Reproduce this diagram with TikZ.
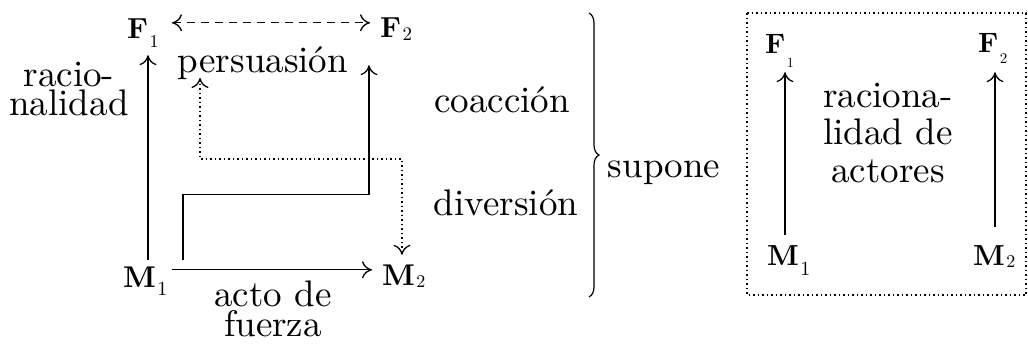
\documentclass[tikz,border=0pt]{standalone}
\usepackage{fontspec}
\setmainfont{lmroman10}[Extension=.otf, UprightFont=*-regular, BoldFont=*-bold, ItalicFont=*-italic]
\usetikzlibrary{arrows.meta,decorations.pathreplacing}
% #1 letter, #2 index, #3 letter size, #4 index size, #5 lowering
\newcommand{\lbl}[5]{{\fontsize{#3}{#3}\selectfont\bfseries #1}\kern1.5pt\raisebox{-#5}{\fontsize{#4}{#4}\selectfont #2}}
\tikzset{
  var/.style={inner sep=0pt, anchor=base west, text depth=0pt},
  txt/.style={inner sep=0pt, anchor=base, align=center, font=\fontsize{37}{#1}\selectfont},
  txt/.default=29,
  tipshape/.tip={Computer Modern Rightarrow[length=10pt,width=17pt,line width=1.3pt]},
  conn/.style={line width=1.2pt, -tipshape},
  dashconn/.style={line width=1.2pt, tipshape-tipshape, dash pattern=on 8pt off 6pt},
  dotconn/.style={line width=1.2pt, tipshape-tipshape, dash pattern=on 1.5pt off 3pt},
}
\begin{document}
\begin{tikzpicture}[x=1pt,y=-1pt]
\useasboundingbox (0,0) rectangle (1028,343);
% left diagram
\node[var, text height=20pt] (F1) at (127,38) {\lbl{F}{1}{29}{18}{9pt}};
\node[var, text height=20pt] (F2) at (380,37) {\lbl{F}{2}{29}{19}{3pt}};
\node[var, text height=21pt] (M1) at (123,287) {\lbl{M}{1}{30}{20}{8pt}};
\node[var, text height=21pt] (M2) at (382,285) {\lbl{M}{2}{30}{18}{2pt}};

\node[txt] (rac) at (69,115) {racio-\\nalidad};
\node[txt] (per) at (263,72) {persuasión};
\node[txt=30] (act) at (273,336) {acto de\\fuerza};
\node[txt] (coa) at (502,112) {coacción};
\node[txt] (div) at (506,215) {diversión};
\node[txt] (sup) at (664,177) {supone};

\draw[conn, line width=1.8pt] ([xshift=25pt,yshift=6pt]M1.north west) -- ([xshift=21pt,yshift=-17pt]F1.south west);
\draw[dashconn] ([xshift=45pt,yshift=-5pt]F1.north west) -- ([xshift=-10pt,yshift=-6pt]F2.north west);
\draw[conn] ([xshift=49pt,yshift=-4pt]M1.north west) -- ([xshift=-10pt,yshift=-6pt]M2.north west);
\draw[conn] ([xshift=60pt,yshift=6pt]M1.north west) -- ++(0,-65) -| ([xshift=-11pt,yshift=-28pt]F2.south west);
\coordinate (dtop) at (200,78);
\draw[dotconn] (dtop) -- ++(0,81) -| ([xshift=20pt,yshift=9pt]M2.north west);

% brace
\draw[line width=1.2pt, decorate, decoration={brace, amplitude=10pt}] (589,13) -- (589,297);

% right diagram
\draw[line width=1.2pt, dash pattern=on 1.5pt off 3pt] (747,13) rectangle (1026,295);
\node[var, text height=19pt] (rF1) at (765,53) {\lbl{F}{1}{28}{14}{14pt}};
\node[var, text height=19pt] (rF2) at (978,52) {\lbl{F}{2}{28}{15}{11pt}};
\node[var, text height=20pt] (rM1) at (767,265) {\lbl{M}{1}{29}{20}{10pt}};
\node[var, text height=20pt] (rM2) at (973,265) {\lbl{M}{2}{29}{18}{2pt}};
\node[txt=37.5] (rac2) at (888,182) {raciona-\\lidad de\\actores};
\draw[conn] ([xshift=18pt,yshift=10pt]rM1.north west) -- ([xshift=20pt,yshift=-19pt]rF1.south west);
\draw[conn] ([xshift=22pt,yshift=18pt]rM2.north west) -- ([xshift=17pt,yshift=-20pt]rF2.south west);
\end{tikzpicture}
\end{document}
